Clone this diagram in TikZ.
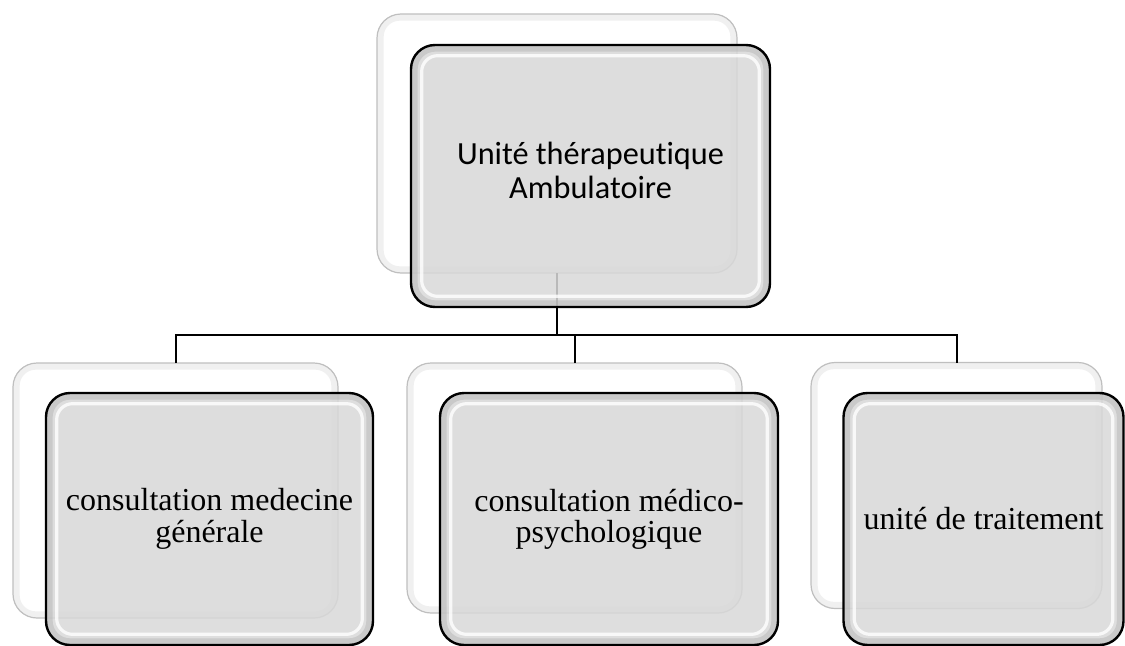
\documentclass[tikz,border=0pt]{standalone}
\usepackage{fontspec}
\newfontfamily\topfont[Ligatures=NoCommon]{Carlito}
\newfontfamily\subfont[Ligatures=NoCommon]{Liberation Serif}
\definecolor{boxgray}{HTML}{D8D8D8}
\tikzset{
  backbox/.style={draw=black!25, line width=0.9pt, fill=white, rounded corners=18pt,
    inner sep=0pt, outer sep=0pt,
    path picture={
      \draw[black!6, line width=6pt, rounded corners=15pt]
        ([shift={(2pt,-2pt)}]path picture bounding box.north west) rectangle
        ([shift={(-2pt,2pt)}]path picture bounding box.south east);
      \draw[white, line width=3pt, rounded corners=10pt]
        ([shift={(8pt,-8pt)}]path picture bounding box.north west) rectangle
        ([shift={(-8pt,8pt)}]path picture bounding box.south east);
    }},
  frontbox/.style={draw=black, line width=1.8pt, fill=boxgray, fill opacity=0.86,
    text opacity=1, rounded corners=18pt, inner sep=0pt, outer sep=0pt, align=center,
    path picture={
      \draw[black!30, line width=8pt, rounded corners=17pt, opacity=0.45]
        ([shift={(1pt,-1pt)}]path picture bounding box.north west) rectangle
        ([shift={(-1pt,1pt)}]path picture bounding box.south east);
      \draw[white, line width=2.4pt, rounded corners=12pt, opacity=0.8]
        ([shift={(8pt,-8pt)}]path picture bounding box.north west) rectangle
        ([shift={(-8pt,8pt)}]path picture bounding box.south east);
    }},
  conn/.style={draw=black, line width=1.5pt},
  toptext/.style={font=\topfont\fontsize{24.2}{25.5}\selectfont, text depth=9pt},
  subtext/.style={font=\subfont\fontsize{24}{23.5}\selectfont},
}
\begin{document}
\begin{tikzpicture}[x=0.75pt, y=-0.75pt]
\useasboundingbox (0,0) rectangle (1125,646);
% back boxes
\node[backbox, minimum width=270pt, minimum height=194.25pt] (tb) at (557,143.5) {};
\node[backbox, minimum width=243.75pt, minimum height=191.25pt] (lb) at (175.5,490.5) {};
\node[backbox, minimum width=251.25pt, minimum height=187.5pt] (mb) at (574.5,488) {};
\node[backbox, minimum width=218.25pt, minimum height=184.5pt] (rb) at (956.5,485.5) {};
% connectors
\coordinate (j) at (557,335);
\draw[conn] (tb.south) -- (tb.south |- j);
\draw[conn] (lb.north) -- (lb.north |- j) -- (rb.north |- j) -- (rb.north);
\draw[conn] (mb.north) -- (mb.north |- j);
% front boxes
\node[frontbox, toptext, minimum width=269.25pt, minimum height=196.5pt] (tf) at (590.5,176)
  {Unité thérapeutique\\Ambulatoire};
\node[frontbox, subtext, minimum width=245.25pt, minimum height=189pt] (lf) at (209.5,519)
  {consultation medecine\\générale};
\node[frontbox, subtext, minimum width=253.5pt, minimum height=189pt] (mf) at (609,519)
  {consultation médico-\\psychologique};
\node[frontbox, subtext, minimum width=210pt, minimum height=189pt] (rf) at (983.5,519)
  {unité de traitement};
\end{tikzpicture}
\end{document}
